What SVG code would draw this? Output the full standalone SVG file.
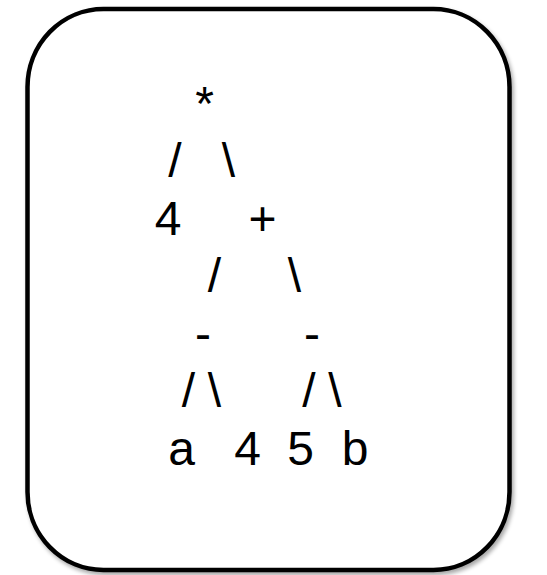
<svg xmlns="http://www.w3.org/2000/svg" width="547" height="575" viewBox="0 0 547 575">
<defs>
<filter id="sh" x="-10%" y="-10%" width="120%" height="120%">
<feGaussianBlur in="SourceAlpha" stdDeviation="2"/>
<feOffset dx="2" dy="3" result="b"/>
<feComponentTransfer><feFuncA type="linear" slope="0.35"/></feComponentTransfer>
<feMerge><feMergeNode/><feMergeNode in="SourceGraphic"/></feMerge>
</filter>
</defs>
<style>
text{font-family:"Liberation Sans",Arial,sans-serif;font-size:48px;fill:#000;text-anchor:middle}
.box{fill:#fff;stroke:#000;stroke-width:4.5}
</style>
<rect width="547" height="575" fill="#fff"/>
<rect class="box" x="27.5" y="9" width="482" height="561" rx="76" ry="78" filter="url(#sh)"/>
<g id="connectors">
<text x="175" y="177">/</text>
<text x="228.5" y="177">\</text>
<text x="214.5" y="292">/</text>
<text x="294.5" y="292">\</text>
<text x="188.5" y="407">/</text>
<text x="214.5" y="407">\</text>
<text x="309" y="407">/</text>
<text x="335" y="407">\</text>
</g>
<g id="node-mul"><text x="204.5" y="119.5">*</text></g>
<g id="node-4a"><text x="168" y="234.5">4</text></g>
<g id="node-plus"><text x="262.5" y="234.5">+</text></g>
<g id="node-minus1"><text x="203" y="349.5">-</text></g>
<g id="node-minus2"><text x="312" y="349.5">-</text></g>
<g id="node-a"><text x="181.5" y="464.5">a</text></g>
<g id="node-4b"><text x="247.5" y="464.5">4</text></g>
<g id="node-5"><text x="300.5" y="464.5">5</text></g>
<g id="node-b"><text x="355" y="464.5">b</text></g>
</svg>
